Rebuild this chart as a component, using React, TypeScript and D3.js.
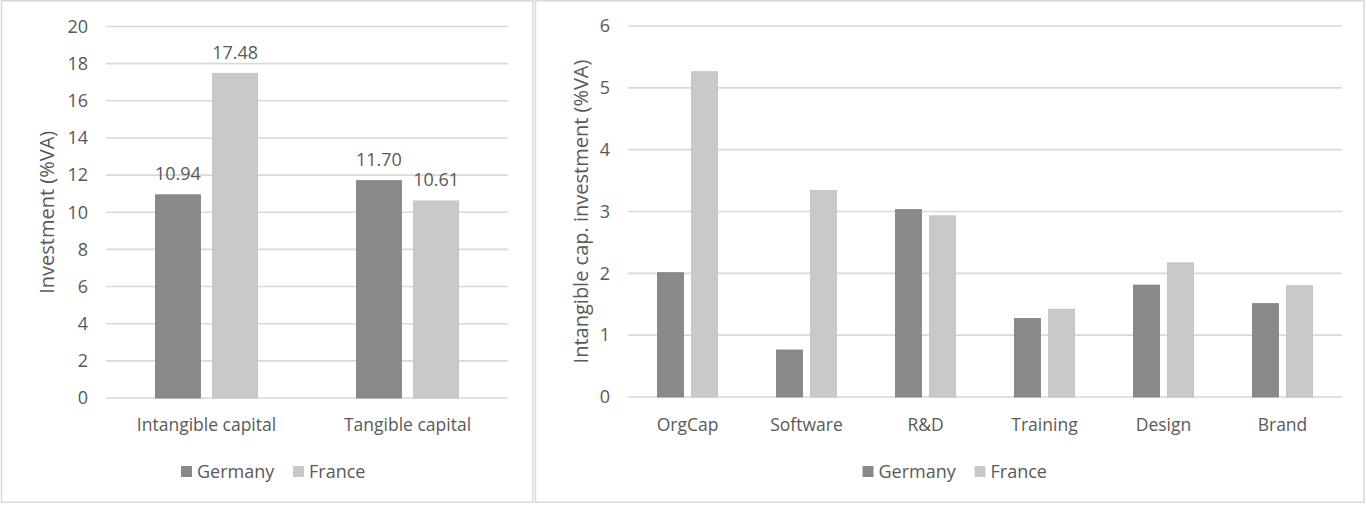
import React from "react";
import * as d3 from "d3";

const seriesNames = ["Germany", "France"];
const seriesColors = ["#898989", "#c9c9c9"];

const leftCategories = ["Intangible capital", "Tangible capital"];
const leftGermany = [10.94, 11.7];
const leftFrance = [17.48, 10.61];
const leftTicks = [0, 2, 4, 6, 8, 10, 12, 14, 16, 18, 20];

const rightCategories = ["OrgCap", "Software", "R&D", "Training", "Design", "Brand"];
const rightGermany = [2.01, 0.76, 3.03, 1.27, 1.81, 1.51];
const rightFrance = [5.26, 3.34, 2.93, 1.42, 2.17, 1.8];
const rightTicks = [0, 1, 2, 3, 4, 5, 6];

const FONT = "'Open Sans', 'Noto Sans', sans-serif";
const TEXT = "#595959";
const GRID = "#d9d9d9";

type PanelProps = {
  categories: string[];
  series: number[][];
  ticks: number[];
  yMax: number;
  x0: number;
  x1: number;
  yTop: number;
  yBottom: number;
  title: string;
  titleX: number;
  labels: boolean;
  legendX: number;
  barFrac: number;
  gapFrac: number;
};

function Panel(p: PanelProps) {
  const x = d3.scaleBand<string>().domain(p.categories).range([p.x0, p.x1]).paddingInner(0).paddingOuter(0);
  const y = d3.scaleLinear().domain([0, p.yMax]).range([p.yBottom, p.yTop]);
  const band = x.bandwidth();
  const bw = band * p.barFrac;
  const gap = bw * p.gapFrac;
  const groupW = bw * p.series.length + gap * (p.series.length - 1);
  const fmt = d3.format(".2f");
  const titleY = (p.yTop + p.yBottom) / 2;
  return (
    <g fontFamily={FONT}>
      {p.ticks.map((t) => (
        <g key={"t" + t}>
          <line x1={p.x0} x2={p.x1} y1={y(t)} y2={y(t)} stroke={GRID} strokeWidth={1.6} />
          <text x={p.x0 - 18} y={y(t)} dy="0.35em" textAnchor="end" fontSize={18} fill={TEXT}>
            {t}
          </text>
        </g>
      ))}
      {p.categories.map((c, i) => {
        const cx = (x(c) as number) + band / 2;
        const start = cx - groupW / 2;
        return (
          <g key={c}>
            {p.series.map((s, j) => {
              const bx = start + j * (bw + gap);
              const v = s[i];
              return (
                <g key={j}>
                  <rect
                    x={bx}
                    y={y(v)}
                    width={bw}
                    height={y(0) - y(v)}
                    fill={seriesColors[j]}
                    stroke={j === 0 ? "#7f7f7f" : "#bfbfbf"}
                    strokeWidth={0.8}
                  />
                  {p.labels && (
                    <text x={bx + bw / 2} y={y(v) - 14.5} textAnchor="middle" fontSize={18} fill={TEXT}>
                      {fmt(v)}
                    </text>
                  )}
                </g>
              );
            })}
            <text x={cx} y={425} dy="0.35em" textAnchor="middle" fontSize={17.5} fill={TEXT}>
              {c}
            </text>
          </g>
        );
      })}
      <text
        transform={`translate(${p.titleX},${titleY}) rotate(-90)`}
        textAnchor="middle"
        dy="0.35em"
        fontSize={20}
        fill={TEXT}
      >
        {p.title}
      </text>
      <g>
        <rect x={p.legendX} y={466} width={11} height={11} fill={seriesColors[0]} />
        <text x={p.legendX + 16} y={471.5} dy="0.35em" fontSize={18} fill={TEXT}>
          {seriesNames[0]}
        </text>
        <rect x={p.legendX + 112} y={466} width={11} height={11} fill={seriesColors[1]} />
        <text x={p.legendX + 128} y={471.5} dy="0.35em" fontSize={18} fill={TEXT}>
          {seriesNames[1]}
        </text>
      </g>
    </g>
  );
}

export default function App() {
  return (
    <svg
      width={1366}
      height={505}
      style={{ position: "absolute", left: 0, top: 0, background: "#ffffff" }}
    >
      <rect x={0} y={0} width={1366} height={505} fill="#ffffff" />
      <rect x={1.5} y={0.75} width={531.5} height={501.5} fill="none" stroke={GRID} strokeWidth={1.5} />
      <rect x={535.5} y={0.75} width={828.5} height={501.5} fill="none" stroke={GRID} strokeWidth={1.5} />
      <Panel
        categories={leftCategories}
        series={[leftGermany, leftFrance]}
        ticks={leftTicks}
        yMax={20}
        x0={106}
        x1={508}
        yTop={26.5}
        yBottom={398}
        title="Investment (%VA)"
        titleX={46.5}
        labels={true}
        legendX={181}
        barFrac={0.224}
        gapFrac={0.27}
      />
      <Panel
        categories={rightCategories}
        series={[rightGermany, rightFrance]}
        ticks={rightTicks}
        yMax={6}
        x0={628}
        x1={1342}
        yTop={26}
        yBottom={397}
        title="Intangible cap. investment (%VA)"
        titleX={580.5}
        labels={false}
        legendX={862.5}
        barFrac={0.219}
        gapFrac={0.31}
      />
    </svg>
  );
}
